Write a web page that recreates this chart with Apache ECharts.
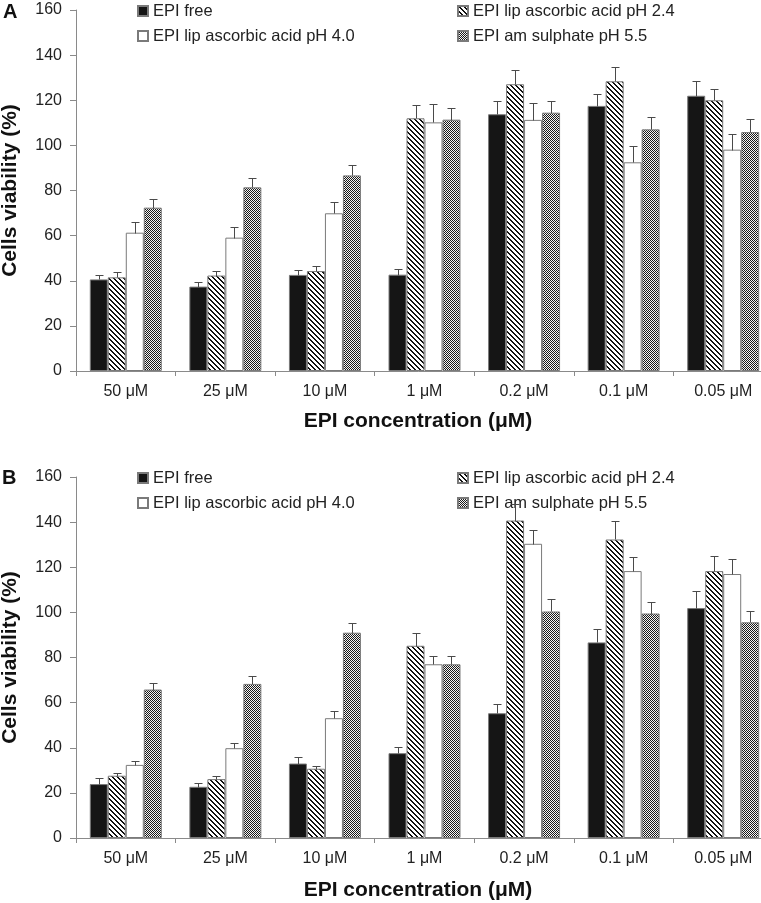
<!DOCTYPE html>
<html>
<head>
<meta charset="utf-8">
<script src="https://cdn.jsdelivr.net/npm/echarts@6/dist/echarts.min.js"></script>
<style>
html,body{margin:0;padding:0;background:#fff;}
#chart{width:761px;height:903px;}
</style>
</head>
<body>
<div id="chart"></div>
<script>
// ---- data ----
const categories = ['50 μM', '25 μM', '10 μM', '1 μM', '0.2 μM', '0.1 μM', '0.05 μM'];
const seriesNames = ['EPI free', 'EPI lip ascorbic acid pH 2.4', 'EPI lip ascorbic acid pH 4.0', 'EPI am sulphate pH 5.5'];

// Panel A
const aFree   = [40.6, 37.4, 42.6, 42.7, 113.8, 117.5, 122.0];
const aLip24  = [41.5, 42.3, 44.3, 112.0, 127.1, 128.4, 120.0];
const aLip40  = [61.3, 59.1, 69.9, 110.2, 111.3, 92.5, 98.1];
const aAm     = [72.4, 81.4, 86.7, 111.4, 114.5, 107.1, 105.9];
const aFreeErr  = [1.8, 2.2, 2.2, 2.5, 6.0, 5.4, 6.4];
const aLip24Err = [2.2, 2.0, 2.1, 5.8, 6.2, 6.2, 5.1];
const aLip40Err = [4.7, 4.6, 5.2, 8.2, 7.6, 7.2, 7.1];
const aAmErr    = [3.7, 4.0, 4.6, 5.2, 5.3, 5.6, 5.8];

// Panel B
const bFree   = [23.9, 22.7, 33.0, 37.6, 55.3, 86.7, 101.9];
const bLip24  = [27.6, 26.1, 30.7, 85.2, 140.7, 132.3, 118.3];
const bLip40  = [32.4, 39.8, 53.1, 77.0, 130.4, 118.3, 117.0];
const bAm     = [65.8, 68.3, 91.0, 77.0, 100.4, 99.5, 95.6];
const bFreeErr  = [2.9, 1.5, 3.0, 2.7, 4.1, 5.8, 7.5];
const bLip24Err = [1.0, 1.5, 1.4, 5.5, 7.5, 8.4, 6.9];
const bLip40Err = [1.9, 2.1, 3.1, 3.5, 6.3, 6.3, 6.5];
const bAmErr    = [2.8, 3.4, 4.4, 3.5, 5.5, 4.9, 4.8];

const yTicks = {min: 0, max: 160, interval: 20};

// ---- patterns ----
function makeHatch() {
  const n = 5;
  const c = document.createElement('canvas');
  c.width = n; c.height = n;
  const ctx = c.getContext('2d');
  ctx.fillStyle = '#fff'; ctx.fillRect(0, 0, n, n);
  ctx.fillStyle = '#111';
  for (let y = 0; y < n; y++) for (let x = 0; x < n; x++) {
    const d = ((x - y) % n + n) % n;
    if (d === 0 || d === 1) ctx.fillRect(x, y, 1, 1);
  }
  return c;
}
function makeChecker() {
  const c = document.createElement('canvas');
  c.width = 2; c.height = 2;
  const ctx = c.getContext('2d');
  ctx.fillStyle = '#f4f4f4'; ctx.fillRect(0, 0, 2, 2);
  ctx.fillStyle = '#1a1a1a';
  ctx.fillRect(0, 0, 1, 1); ctx.fillRect(1, 1, 1, 1);
  return c;
}
const hatchFill = {image: makeHatch(), repeat: 'repeat'};
const checkFill = {image: makeChecker(), repeat: 'repeat'};
const fills = ['#151515', hatchFill, '#ffffff', checkFill];

const FONT = '"Liberation Sans", Arial, sans-serif';
const GAP = 0.277;
const BORDER = '#7a7a7a';

const panels = [
  {vals: [aFree, aLip24, aLip40, aAm], errs: [aFreeErr, aLip24Err, aLip40Err, aAmErr], top: 10, height: 361, xGap: 40},
  {vals: [bFree, bLip24, bLip40, bAm], errs: [bFreeErr, bLip24Err, bLip40Err, bAmErr], top: 477, height: 361, xGap: 42}
];

const grids = [], xAxes = [], yAxes = [], series = [], legends = [];
panels.forEach((p, gi) => {
  grids.push({left: 76, top: p.top, width: 697, height: p.height, containLabel: false, outerBoundsMode: 'none'});
  xAxes.push({
    type: 'category', gridIndex: gi, data: categories,
    axisLine: {lineStyle: {color: '#8a8a8a', width: 1}},
    axisTick: {show: true, length: 5, lineStyle: {color: '#8a8a8a'}},
    axisLabel: {fontSize: 16, color: '#222', fontFamily: FONT, margin: 13},
    name: 'EPI concentration (μM)', nameLocation: 'middle', nameGap: p.xGap,
    nameTextStyle: {fontSize: 21, fontWeight: 'bold', color: '#111', fontFamily: FONT, padding: [0, 13, 0, 0]}
  });
  yAxes.push({
    type: 'value', gridIndex: gi, min: yTicks.min, max: yTicks.max, interval: yTicks.interval,
    splitLine: {show: false},
    axisLine: {show: true, lineStyle: {color: '#8a8a8a', width: 1}},
    axisTick: {show: true, length: 6, lineStyle: {color: '#8a8a8a'}},
    axisLabel: {fontSize: 16, color: '#222', fontFamily: FONT, margin: 14},
    name: 'Cells viability (%)', nameLocation: 'middle', nameGap: 55,
    nameTextStyle: {fontSize: 21, fontWeight: 'bold', color: '#111', fontFamily: FONT}
  });
  p.vals.forEach((arr, k) => {
    series.push({
      type: 'bar', name: seriesNames[k], xAxisIndex: gi, yAxisIndex: gi,
      data: arr, barGap: '0%', barCategoryGap: (GAP * 100) + '%',
      itemStyle: {color: fills[k], borderColor: BORDER, borderWidth: 1},
      emphasis: {disabled: true}, animation: false
    });
  });
  p.vals.forEach((arr, k) => {
    const errs = p.errs[k];
    series.push({
      type: 'custom', xAxisIndex: gi, yAxisIndex: gi, z: 5, animation: false, silent: true,
      data: arr.map((v, i) => [i, v, errs[i]]),
      renderItem: function (params, api) {
        const x = api.value(0), v = api.value(1), e = api.value(2);
        const p0 = api.coord([x, v]);
        const p1 = api.coord([x, v + e]);
        const band = api.size([1, 0])[0];
        const bw = band * (1 - GAP) / 4;
        const cx = Math.round(p0[0] + (k - 1.5) * bw) + 0.5;
        const y0 = Math.round(p0[1]) + 0.5, y1 = Math.round(p1[1]) + 0.5;
        const st = {stroke: '#4a4a4a', lineWidth: 1, fill: null};
        return {type: 'group', children: [
          {type: 'line', shape: {x1: cx, y1: y0, x2: cx, y2: y1}, style: st},
          {type: 'line', shape: {x1: cx - 4, y1: y1, x2: cx + 4, y2: y1}, style: st}
        ]};
      }
    });
  });
  const legBase = {
    orient: 'vertical', padding: 0, itemWidth: 10, itemHeight: 10, itemGap: 7,
    icon: 'rect', selectedMode: false,
    textStyle: {fontSize: 16.5, color: '#222', fontFamily: FONT, lineHeight: 18}
  };
  legends.push(Object.assign({}, legBase, {left: 137, top: p.top - 8, data: [seriesNames[0], seriesNames[2]]}));
  legends.push(Object.assign({}, legBase, {left: 457, top: p.top - 8, data: [seriesNames[1], seriesNames[3]]}));
});

const chart = echarts.init(document.getElementById('chart'), null, {renderer: 'canvas'});
chart.setOption({
  backgroundColor: '#ffffff',
  animation: false,
  textStyle: {fontFamily: FONT},
  grid: grids, xAxis: xAxes, yAxis: yAxes, legend: legends, series: series,
  graphic: [
    {type: 'text', left: 3, top: 2, style: {text: 'A', fontSize: 20, fontWeight: 'bold', fill: '#111', fontFamily: FONT}},
    {type: 'text', left: 2, top: 468, style: {text: 'B', fontSize: 20, fontWeight: 'bold', fill: '#111', fontFamily: FONT}}
  ]
});
</script>
</body>
</html>
